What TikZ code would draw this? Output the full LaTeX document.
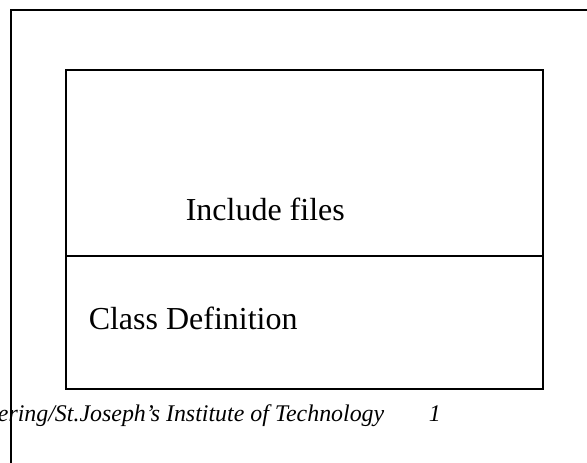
\documentclass[tikz,border=0pt]{standalone}
\usepackage{fontspec}
\setmainfont{Liberation Serif}
\usepackage{tikz}
\newcommand{\bigtxt}  {\fontsize{32}{38}\selectfont}
\newcommand{\foottxt} {\fontsize{23.9}{29}\itshape}

\begin{document}
\begin{tikzpicture}[x=1pt,y=-1pt,line width=1.5pt,
    lbl/.style={anchor=base west,inner sep=0pt}]
     \useasboundingbox (0,0) rectangle (587,463);
     \draw (11,463) -- (11,10) -- (587,10);
     \draw (66,70) rectangle (543,389);
     \draw (66,256) -- (543,256);
     \node[lbl] (inc)  at (185,220) {\bigtxt Include files};
     \node[lbl] (cls)  at ( 88,329) {\bigtxt Class Definition};
     \node[lbl,anchor=base east] (foot) at (385,421) {\foottxt ering/St.Joseph's Institute of Technology};
     \node[lbl] (page) at (428,421) {\foottxt 1};
    \end{tikzpicture}
\end{document}
